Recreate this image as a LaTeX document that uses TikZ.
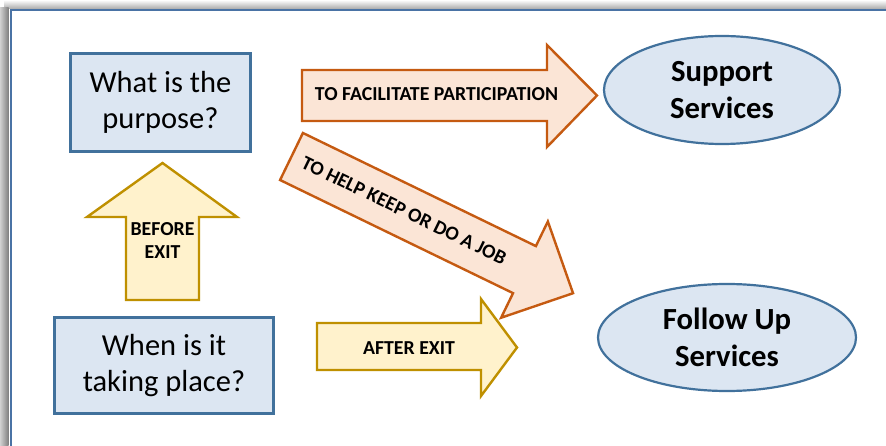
\documentclass[tikz,border=0pt]{standalone}
\usepackage{fontspec}
\setmainfont{Carlito}
\usetikzlibrary{shapes.geometric}
\definecolor{boxfill}{HTML}{DCE6F2}
\definecolor{boxline}{HTML}{41719C}
\definecolor{orfill}{HTML}{FBE5D6}
\definecolor{orline}{HTML}{C55A11}
\definecolor{yefill}{HTML}{FFF2CC}
\definecolor{yeline}{HTML}{BF9000}
\definecolor{frameline}{HTML}{4A73A5}
\begin{document}
\begin{tikzpicture}[x=1pt,y=-1pt,
  qbox/.style={draw=boxline, fill=boxfill, line width=2.6pt, align=center,
    font=\fontsize{30.5}{36}\selectfont, inner sep=0pt},
  svc/.style={ellipse, draw=boxline, fill=boxfill, line width=2.2pt, align=center,
    font=\fontsize{30.7}{37}\selectfont\bfseries, inner sep=0pt},
  orarrow/.style={draw=orline, fill=orfill, line width=2.4pt, line join=miter},
  yearrow/.style={draw=yeline, fill=yefill, line width=2.4pt, line join=miter},
  albl/.style={font=\fontsize{19.8}{23.5}\selectfont\bfseries, align=center, inner sep=0pt}]
\useasboundingbox (0,0) rectangle (886,446);
\fill[white] (0,0) rectangle (886,446);
% frame shadow
\shade[top color=white, bottom color=black!32] (4,0) rectangle (886,8.5);
\shade[left color=black!18, right color=black!50] (0,8) rectangle (8.5,446);
\draw[frameline, line width=2.4pt] (886,10) -- (11,10) -- (11,446);

% question boxes
\node[qbox, minimum width=180pt, minimum height=98pt] (purpose) at (160.5,102.5) {What is the\\purpose?};
\node[qbox, minimum width=219pt, minimum height=96pt] (when) at (164,365.5) {When is it\\taking place?};

% services
\node[svc, minimum width=236pt, minimum height=108pt] (support) at (722,90) {Support\\Services};
\node[svc, minimum width=258pt, minimum height=107pt] (follow) at (727,337.5) {Follow Up\\Services};

% arrow: to facilitate participation
\path[orarrow] (302,70) -- (547,70) -- (547,45) -- (597,95.5) -- (547,147) -- (547,121) -- (302,121) -- cycle;
\node[albl] (facil) at (436.5,94.5) {TO FACILITATE PARTICIPATION};

% arrow: diagonal
\begin{scope}[shift={(291.5,156.5)}, rotate=-25.9]
\path[orarrow] (0,-26.15) -- (259,-26.15) -- (259,-53.5) -- (313,0) -- (259,53.5) -- (259,26.15) -- (0,26.15) -- cycle;
\end{scope}
\node[albl, rotate=-25.9] (job) at (404,210.5) {TO HELP KEEP OR DO A JOB};

% arrow: after exit
\path[yearrow] (317,323) -- (481,323) -- (481,299) -- (517,347.5) -- (481,396) -- (481,370) -- (317,370) -- cycle;
\node[albl] (after) at (409,348) {AFTER EXIT};

% arrow: before exit (up)
\path[yearrow] (126,300) -- (126,217) -- (87,217) -- (162.5,163) -- (237,217) -- (199,217) -- (199,300) -- cycle;
\node[albl] (before) at (162.5,240.5) {BEFORE\\EXIT};
\end{tikzpicture}
\end{document}
